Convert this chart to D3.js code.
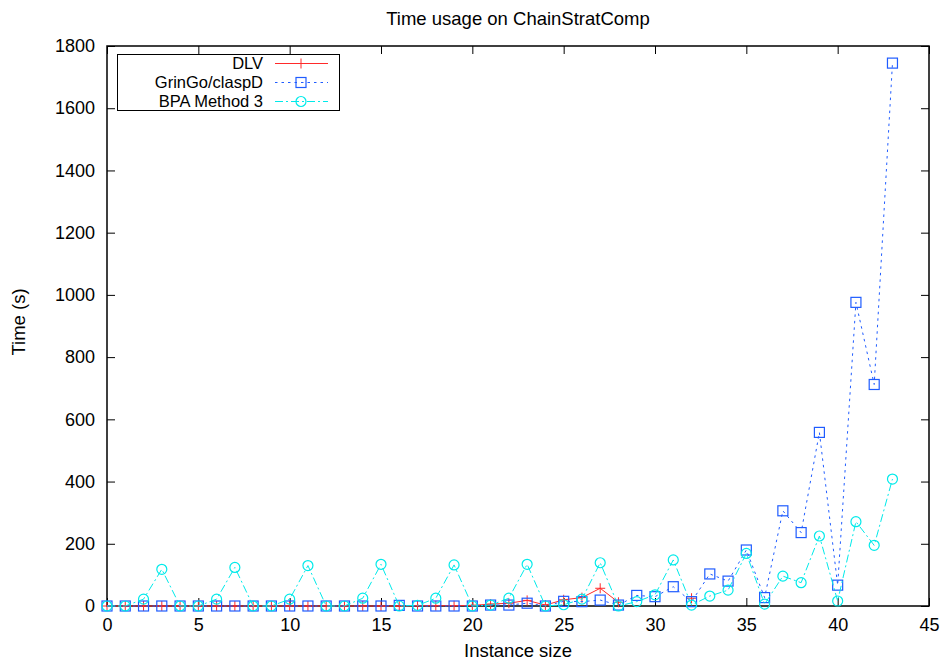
<!DOCTYPE html>
<html>
<head>
<meta charset="utf-8">
<script src="https://cdn.jsdelivr.net/npm/d3@7"></script>
<style>
  body { margin: 0; background: #fff; }
  svg { font-family: "Liberation Sans", Arial, Helvetica, sans-serif; }
</style>
</head>
<body>
<div id="chart"></div>
<script>
// instance sizes on the x axis
var sizes = [0, 1, 2, 3, 4, 5, 6, 7, 8, 9, 10, 11, 12, 13, 14, 15, 16, 17, 18, 19, 20, 21,
  22, 23, 24, 25, 26, 27, 28, 29, 30, 31, 32, 33, 34, 35, 36, 37, 38, 39, 40, 41, 42, 43];

// time in seconds, null = no result (gap in line)
var dlv = [0, 0, 0, 0, 0, 0, 0, 0, 0, 0, 0, 0, 0, 0, 0, 0, 0, 1, 1, 1, 2, 6,
  9, 18, 3, 20, 27, 57, 12, null, null, null, 25, null, null, null, null, null, null, null, null, null, null, null];
var gringo = [0, 0, 0, 0, 0, 0, 0, 0, 0, 0, 0, 0, 0, 0, 0, 0, 2, 0, 0, 0, 0, 3,
  3, 9, 0, 15, 14, 19, 3, 34, 30, 62, 14, 103, 80, 180, 27, 306, 236, 558, 67, 976, 712, 1745];
var bpa = [0, 0, 22, 118, 0, 0, 22, 124, 0, 0, 22, 130, 0, 0, 25, 134, 0, 2, 25, 132, 0, 3,
  25, 134, 0, 4, 22, 139, 0, 14, 36, 148, 3, 32, 51, 169, 6, 96, 75, 225, 16, 271, 195, 408];

var xTicks = [0, 5, 10, 15, 20, 25, 30, 35, 40, 45];
var yTicks = [0, 200, 400, 600, 800, 1000, 1200, 1400, 1600, 1800];

const WIDTH = 943, HEIGHT = 660;
const MARGIN = { LEFT: 107, RIGHT: 14, TOP: 46, BOTTOM: 54 };
const TICK = 8;

var series = [
  { name: "DLV", values: dlv, color: "#ff2a2a", dash: null, marker: "plus" },
  { name: "GrinGo/claspD", values: gringo, color: "#1f5cff", dash: "2.5,4", marker: "square" },
  { name: "BPA Method 3", values: bpa, color: "#00eaea", dash: "8,3,2,3", marker: "circle" }
];

var svg = d3.select("#chart").append("svg")
  .attr("width", WIDTH)
  .attr("height", HEIGHT);

var x = d3.scaleLinear().domain([0, 45]).range([MARGIN.LEFT, WIDTH - MARGIN.RIGHT]);
var y = d3.scaleLinear().domain([0, 1800]).range([HEIGHT - MARGIN.BOTTOM, MARGIN.TOP]);

// axes, gnuplot style: ticks inside, mirrored
var xAxisB = d3.axisBottom(x).tickValues(xTicks).tickSizeInner(-TICK).tickSizeOuter(0).tickPadding(12);
var xAxisT = d3.axisTop(x).tickValues(xTicks).tickSizeInner(-TICK).tickSizeOuter(0).tickFormat("");
var yAxisL = d3.axisLeft(y).tickValues(yTicks).tickFormat(d3.format("d")).tickSizeInner(-TICK).tickSizeOuter(0).tickPadding(12);
var yAxisR = d3.axisRight(y).tickValues(yTicks).tickSizeInner(-TICK).tickSizeOuter(0).tickFormat("");

function styleAxis(g) {
  g.select(".domain").remove();
  g.selectAll(".tick line").attr("stroke", "#000").attr("stroke-width", 1);
  g.selectAll(".tick text").attr("fill", "#000").style("font-size", "18px");
}

svg.append("g").attr("transform", "translate(0," + y(0) + ")").call(xAxisB).call(styleAxis);
svg.append("g").attr("transform", "translate(0," + y(1800) + ")").call(xAxisT).call(styleAxis);
svg.append("g").attr("transform", "translate(" + x(0) + ",0)").call(yAxisL).call(styleAxis);
svg.append("g").attr("transform", "translate(" + x(45) + ",0)").call(yAxisR).call(styleAxis);

// border
svg.append("rect")
  .attr("x", x(0)).attr("y", y(1800))
  .attr("width", x(45) - x(0)).attr("height", y(0) - y(1800))
  .attr("fill", "none").attr("stroke", "#000").attr("stroke-width", 1.5);

// labels
svg.append("text").attr("x", (x(0) + x(45)) / 2).attr("y", 25)
  .attr("text-anchor", "middle").style("font-size", "18.5px").text("Time usage on ChainStratComp");
svg.append("text").attr("x", (x(0) + x(45)) / 2).attr("y", 657)
  .attr("text-anchor", "middle").style("font-size", "18.5px").text("Instance size");
svg.append("text")
  .attr("transform", "translate(25," + ((y(0) + y(1800)) / 2 - 4) + ") rotate(-90)")
  .attr("text-anchor", "middle").style("font-size", "18.5px").text("Time (s)");

function drawMarker(g, type, cx, cy, color) {
  if (type == "plus") {
    g.append("path").attr("d", "M" + (cx - 5) + "," + cy + "h10M" + cx + "," + (cy - 5) + "v10")
      .attr("stroke", color).attr("fill", "none").attr("stroke-width", 1);
  } else if (type == "square") {
    g.append("rect").attr("x", cx - 5).attr("y", cy - 5).attr("width", 10).attr("height", 10)
      .attr("stroke", color).attr("fill", "none").attr("stroke-width", 1.2);
  } else {
    g.append("circle").attr("cx", cx).attr("cy", cy).attr("r", 5)
      .attr("stroke", color).attr("fill", "none").attr("stroke-width", 1.2);
  }
}

var line = d3.line()
  .defined(d => d.v != null)
  .x(d => x(d.s))
  .y(d => y(d.v));

series.forEach(function (s) {
  var pts = sizes.map((sz, i) => ({ s: sz, v: s.values[i] }));
  var g = svg.append("g");
  g.append("path")
    .datum(pts)
    .attr("fill", "none")
    .attr("stroke", s.color)
    .attr("stroke-width", 1)
    .attr("stroke-dasharray", s.dash)
    .attr("d", line);
  pts.filter(p => p.v != null).forEach(p => drawMarker(g, s.marker, x(p.s), y(p.v), s.color));
});

// legend
var legend = svg.append("g");
legend.append("rect")
  .attr("x", 117.5).attr("y", 54.5).attr("width", 222).attr("height", 56)
  .attr("fill", "none").attr("stroke", "#000").attr("stroke-width", 1);
series.forEach(function (s, i) {
  var ly = 63.5 + i * 19;
  legend.append("text").attr("x", 263).attr("y", ly).attr("dy", "0.36em")
    .attr("text-anchor", "end").style("font-size", "16.5px").text(s.name);
  legend.append("line").attr("x1", 275).attr("x2", 328).attr("y1", ly).attr("y2", ly)
    .attr("stroke", s.color).attr("stroke-width", 1).attr("stroke-dasharray", s.dash);
  drawMarker(legend, s.marker, 301, ly, s.color);
});
</script>
</body>
</html>
